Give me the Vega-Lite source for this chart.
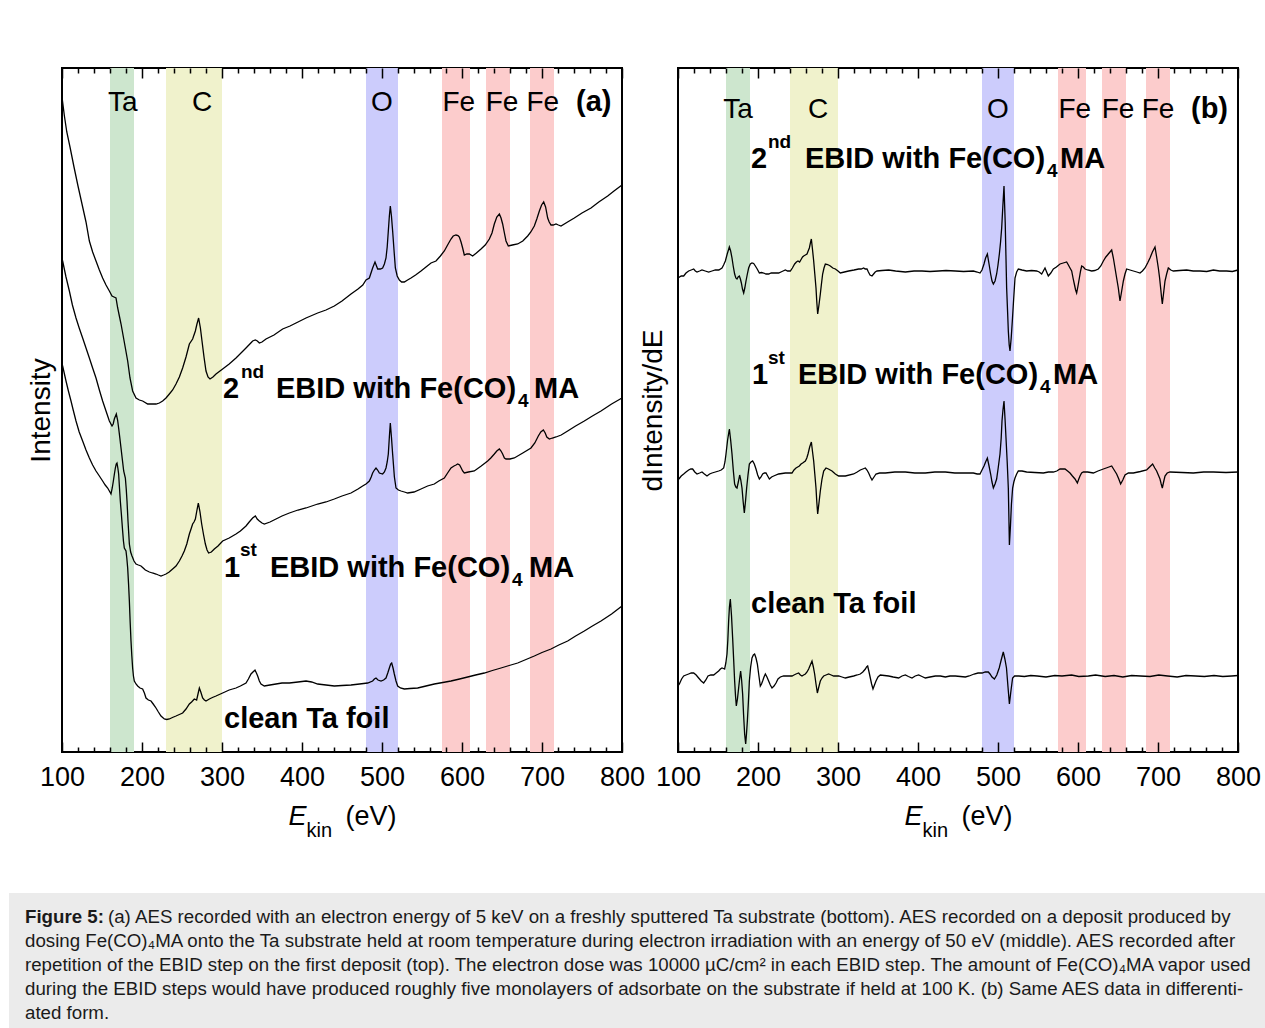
{
"$schema":"https://vega.github.io/schema/vega-lite/v6.json",
"padding":{"left":9,"top":66,"right":0,"bottom":0},
"background":"white",
"config":{"font":"Liberation Sans","view":{"stroke":"black","strokeWidth":2},"axis":{"grid":false,"labelFont":"Liberation Sans","titleFont":"Liberation Sans","labelColor":"black","titleColor":"black","tickColor":"black","titleFontWeight":"normal"},"text":{"font":"Liberation Sans"}},
"datasets":{
"bandsA":[{"el":"Ta","x0":160,"x1":190},{"el":"C","x0":230,"x1":300},{"el":"O","x0":480,"x1":520},{"el":"Fe","x0":575,"x1":610},{"el":"Fe","x0":630,"x1":660},{"el":"Fe","x0":685,"x1":715}],
"bandsB":[{"el":"Ta","x0":160,"x1":190},{"el":"C","x0":240,"x1":300},{"el":"O","x0":480,"x1":520},{"el":"Fe","x0":575,"x1":610},{"el":"Fe","x0":630,"x1":660},{"el":"Fe","x0":685,"x1":715}],
"labA":[{"t":"Ta","e":176,"v":641},{"t":"C","e":275,"v":641},{"t":"O","e":500,"v":641},{"t":"Fe","e":596,"v":641},{"t":"Fe","e":650,"v":641},{"t":"Fe","e":701,"v":641}],
"labB":[{"t":"Ta","e":175,"v":634},{"t":"C","e":275,"v":634},{"t":"O","e":500,"v":634},{"t":"Fe","e":596,"v":634},{"t":"Fe","e":650,"v":634},{"t":"Fe","e":700,"v":634}],
"annA":[{"k":"m","t":"(a)","e":742.5,"v":641},
{"k":"m","t":"2","e":301.25,"v":354},{"k":"s","t":"nd","e":323.75,"v":374},{"k":"m","t":"EBID with Fe(CO)","e":367.5,"v":354},{"k":"s","t":"4","e":670,"v":345},{"k":"m","t":"MA","e":690,"v":354},
{"k":"m","t":"1","e":302.5,"v":175},{"k":"s","t":"st","e":322.5,"v":196},{"k":"m","t":"EBID with Fe(CO)","e":360,"v":175},{"k":"s","t":"4","e":662.5,"v":166},{"k":"m","t":"MA","e":683.75,"v":175},
{"k":"m","t":"clean Ta foil","e":302.5,"v":24}],
"annB":[{"k":"m","t":"(b)","e":741.25,"v":634},
{"k":"m","t":"2","e":191.25,"v":584},{"k":"s","t":"nd","e":212.5,"v":604},{"k":"m","t":"EBID with Fe(CO)","e":258.75,"v":584},{"k":"s","t":"4","e":561.25,"v":575},{"k":"m","t":"MA","e":577.5,"v":584},
{"k":"m","t":"1","e":192.5,"v":368},{"k":"s","t":"st","e":212.5,"v":388},{"k":"m","t":"EBID with Fe(CO)","e":250,"v":368},{"k":"s","t":"4","e":552.5,"v":359},{"k":"m","t":"MA","e":568.75,"v":368},
{"k":"m","t":"clean Ta foil","e":191.25,"v":139}],
"linesA":[
{"s":"2","e":100,"v":655},{"s":"2","e":103,"v":636},{"s":"2","e":106,"v":620},{"s":"2","e":110,"v":605},{"s":"2","e":115,"v":585},{"s":"2","e":120,"v":566},{"s":"2","e":125,"v":548},{"s":"2","e":130,"v":530},{"s":"2","e":134.2,"v":511},{"s":"2","e":138.3,"v":500},{"s":"2","e":142.5,"v":491},{"s":"2","e":146.7,"v":482},{"s":"2","e":150.8,"v":474},{"s":"2","e":155,"v":467},{"s":"2","e":159.2,"v":461},{"s":"2","e":162.5,"v":456},{"s":"2","e":165,"v":455},{"s":"2","e":167.5,"v":454},{"s":"2","e":169.6,"v":444},{"s":"2","e":171.7,"v":436},{"s":"2","e":173.8,"v":428},{"s":"2","e":176.5,"v":416},{"s":"2","e":179.2,"v":404},{"s":"2","e":182.1,"v":391},{"s":"2","e":185,"v":374},{"s":"2","e":188.3,"v":361},{"s":"2","e":192.5,"v":354},{"s":"2","e":196.7,"v":352},{"s":"2","e":200.8,"v":351},{"s":"2","e":207.1,"v":348},{"s":"2","e":212,"v":348},{"s":"2","e":217.5,"v":348},{"s":"2","e":221.7,"v":349},{"s":"2","e":225.8,"v":351},{"s":"2","e":230,"v":354},{"s":"2","e":234.2,"v":358},{"s":"2","e":238.3,"v":362},{"s":"2","e":242.5,"v":368},{"s":"2","e":246.7,"v":375},{"s":"2","e":250.8,"v":384},{"s":"2","e":255,"v":395},{"s":"2","e":259.2,"v":408},{"s":"2","e":263.3,"v":413},{"s":"2","e":266.7,"v":421},{"s":"2","e":268.7,"v":428},{"s":"2","e":270.8,"v":434},{"s":"2","e":273,"v":424},{"s":"2","e":275,"v":411},{"s":"2","e":277.5,"v":395},{"s":"2","e":280,"v":381},{"s":"2","e":282.5,"v":375},{"s":"2","e":285,"v":373},{"s":"2","e":288.7,"v":375},{"s":"2","e":292.5,"v":378},{"s":"2","e":300.8,"v":383},{"s":"2","e":309,"v":388},{"s":"2","e":317.5,"v":394},{"s":"2","e":325,"v":400},{"s":"2","e":330,"v":404},{"s":"2","e":336,"v":409},{"s":"2","e":338.3,"v":411},{"s":"2","e":341.7,"v":412},{"s":"2","e":344.2,"v":411},{"s":"2","e":346.7,"v":409},{"s":"2","e":350,"v":410},{"s":"2","e":355,"v":413},{"s":"2","e":365,"v":417},{"s":"2","e":375.8,"v":423},{"s":"2","e":385,"v":426},{"s":"2","e":392.5,"v":429},{"s":"2","e":405,"v":434},{"s":"2","e":419.6,"v":439},{"s":"2","e":430,"v":442},{"s":"2","e":440.4,"v":446},{"s":"2","e":450,"v":451},{"s":"2","e":461.25,"v":458},{"s":"2","e":470,"v":463},{"s":"2","e":476,"v":467},{"s":"2","e":480,"v":472},{"s":"2","e":484.2,"v":474},{"s":"2","e":488.3,"v":484},{"s":"2","e":491.25,"v":490},{"s":"2","e":494.6,"v":483},{"s":"2","e":498,"v":483},{"s":"2","e":500.8,"v":484},{"s":"2","e":503,"v":488},{"s":"2","e":505,"v":494},{"s":"2","e":506.5,"v":505},{"s":"2","e":507.9,"v":521},{"s":"2","e":509.2,"v":536},{"s":"2","e":510.4,"v":546},{"s":"2","e":511.8,"v":536},{"s":"2","e":513.3,"v":521},{"s":"2","e":515,"v":502},{"s":"2","e":516.7,"v":484},{"s":"2","e":519,"v":476},{"s":"2","e":521.7,"v":472},{"s":"2","e":524.5,"v":470},{"s":"2","e":527.9,"v":470},{"s":"2","e":532,"v":472},{"s":"2","e":536.25,"v":474},{"s":"2","e":542,"v":477},{"s":"2","e":548.75,"v":481},{"s":"2","e":555,"v":485},{"s":"2","e":561.25,"v":489},{"s":"2","e":567.5,"v":491},{"s":"2","e":573,"v":496},{"s":"2","e":577.9,"v":501},{"s":"2","e":582,"v":507},{"s":"2","e":586.25,"v":513},{"s":"2","e":589,"v":516},{"s":"2","e":592.5,"v":517},{"s":"2","e":595,"v":516.5},{"s":"2","e":596.7,"v":515},{"s":"2","e":598.8,"v":510},{"s":"2","e":600.8,"v":504},{"s":"2","e":602.9,"v":497},{"s":"2","e":606,"v":498},{"s":"2","e":609.2,"v":498},{"s":"2","e":613.3,"v":496},{"s":"2","e":618,"v":499},{"s":"2","e":623.75,"v":503},{"s":"2","e":629,"v":507},{"s":"2","e":634.2,"v":513},{"s":"2","e":637.5,"v":519},{"s":"2","e":640.4,"v":528},{"s":"2","e":643.5,"v":535},{"s":"2","e":646.7,"v":538},{"s":"2","e":648.8,"v":534},{"s":"2","e":650.8,"v":528},{"s":"2","e":653,"v":519},{"s":"2","e":655,"v":511},{"s":"2","e":657.9,"v":506},{"s":"2","e":663,"v":507},{"s":"2","e":669.6,"v":508},{"s":"2","e":676,"v":511},{"s":"2","e":682.1,"v":516},{"s":"2","e":686,"v":520},{"s":"2","e":690.4,"v":526},{"s":"2","e":693.5,"v":533},{"s":"2","e":696.7,"v":541},{"s":"2","e":699.5,"v":547},{"s":"2","e":702.1,"v":550},{"s":"2","e":704.5,"v":545},{"s":"2","e":707.1,"v":534},{"s":"2","e":709,"v":530},{"s":"2","e":711.25,"v":527},{"s":"2","e":714,"v":527},{"s":"2","e":717.5,"v":528},{"s":"2","e":720.5,"v":527},{"s":"2","e":723.75,"v":526},{"s":"2","e":732,"v":530},{"s":"2","e":740.4,"v":534},{"s":"2","e":750,"v":539},{"s":"2","e":761.25,"v":544},{"s":"2","e":771,"v":550},{"s":"2","e":782.1,"v":556},{"s":"2","e":790,"v":561},{"s":"2","e":800,"v":567},
{"s":"1","e":100,"v":493},{"s":"1","e":100.8,"v":491},{"s":"1","e":105,"v":475},{"s":"1","e":109.2,"v":461},{"s":"1","e":113,"v":447},{"s":"1","e":117.5,"v":434},{"s":"1","e":121.5,"v":424},{"s":"1","e":125.8,"v":414},{"s":"1","e":130,"v":404},{"s":"1","e":134.2,"v":394},{"s":"1","e":138.3,"v":384},{"s":"1","e":142.5,"v":374},{"s":"1","e":146.7,"v":362},{"s":"1","e":150.8,"v":351},{"s":"1","e":155,"v":341},{"s":"1","e":159.2,"v":331},{"s":"1","e":162.5,"v":326},{"s":"1","e":164,"v":328},{"s":"1","e":165.4,"v":333},{"s":"1","e":167.9,"v":338},{"s":"1","e":169.5,"v":332},{"s":"1","e":170.8,"v":324},{"s":"1","e":172.3,"v":314},{"s":"1","e":173.75,"v":304},{"s":"1","e":175.5,"v":292},{"s":"1","e":177.1,"v":281},{"s":"1","e":179.2,"v":274},{"s":"1","e":180.3,"v":263},{"s":"1","e":181.25,"v":251},{"s":"1","e":182.5,"v":231},{"s":"1","e":184.2,"v":208},{"s":"1","e":185.8,"v":200},{"s":"1","e":187.5,"v":196},{"s":"1","e":190,"v":191},{"s":"1","e":192.5,"v":188},{"s":"1","e":195.5,"v":187},{"s":"1","e":198.75,"v":186},{"s":"1","e":201.5,"v":184},{"s":"1","e":204.2,"v":182},{"s":"1","e":209.2,"v":180},{"s":"1","e":213,"v":179},{"s":"1","e":217.5,"v":178},{"s":"1","e":220.5,"v":177},{"s":"1","e":223.75,"v":176},{"s":"1","e":227,"v":177},{"s":"1","e":230,"v":178},{"s":"1","e":234,"v":180},{"s":"1","e":238.3,"v":183},{"s":"1","e":242.5,"v":186},{"s":"1","e":246.7,"v":191},{"s":"1","e":250,"v":196},{"s":"1","e":252.9,"v":201},{"s":"1","e":256,"v":208},{"s":"1","e":259.2,"v":218},{"s":"1","e":261.3,"v":223},{"s":"1","e":263.3,"v":228},{"s":"1","e":265,"v":230},{"s":"1","e":266.7,"v":233},{"s":"1","e":268.5,"v":241},{"s":"1","e":270.4,"v":249},{"s":"1","e":272.5,"v":240},{"s":"1","e":274.6,"v":228},{"s":"1","e":277,"v":217},{"s":"1","e":279.2,"v":208},{"s":"1","e":281.3,"v":202},{"s":"1","e":283.3,"v":199},{"s":"1","e":286.7,"v":200},{"s":"1","e":290.4,"v":203},{"s":"1","e":295,"v":206},{"s":"1","e":300.8,"v":211},{"s":"1","e":309,"v":214},{"s":"1","e":317.5,"v":218},{"s":"1","e":323,"v":221},{"s":"1","e":330,"v":226},{"s":"1","e":334,"v":230},{"s":"1","e":338.3,"v":234},{"s":"1","e":341.7,"v":236},{"s":"1","e":344,"v":233},{"s":"1","e":346.7,"v":231},{"s":"1","e":350,"v":229},{"s":"1","e":352.9,"v":228},{"s":"1","e":360,"v":230},{"s":"1","e":367.5,"v":233},{"s":"1","e":375,"v":236},{"s":"1","e":384.2,"v":239},{"s":"1","e":395,"v":242},{"s":"1","e":405,"v":244},{"s":"1","e":419.6,"v":248},{"s":"1","e":430,"v":250},{"s":"1","e":440.4,"v":253},{"s":"1","e":450,"v":256},{"s":"1","e":461.25,"v":259},{"s":"1","e":470,"v":263},{"s":"1","e":475.8,"v":266},{"s":"1","e":480,"v":268},{"s":"1","e":484.2,"v":271},{"s":"1","e":486.5,"v":275},{"s":"1","e":488.3,"v":279},{"s":"1","e":490.5,"v":282},{"s":"1","e":492.5,"v":284},{"s":"1","e":494.5,"v":282},{"s":"1","e":496.7,"v":279},{"s":"1","e":500.8,"v":278},{"s":"1","e":503,"v":280},{"s":"1","e":505,"v":284},{"s":"1","e":506.5,"v":290},{"s":"1","e":507.9,"v":298},{"s":"1","e":509.2,"v":315},{"s":"1","e":510.4,"v":329},{"s":"1","e":511.8,"v":315},{"s":"1","e":513.3,"v":298},{"s":"1","e":515.5,"v":275},{"s":"1","e":517.5,"v":264},{"s":"1","e":520.5,"v":262},{"s":"1","e":523.75,"v":261},{"s":"1","e":528,"v":260},{"s":"1","e":532.1,"v":259},{"s":"1","e":540,"v":260},{"s":"1","e":548.75,"v":263},{"s":"1","e":557,"v":266},{"s":"1","e":565.4,"v":268},{"s":"1","e":571,"v":271},{"s":"1","e":577.9,"v":274},{"s":"1","e":582,"v":279},{"s":"1","e":586.25,"v":284},{"s":"1","e":590,"v":286},{"s":"1","e":592.5,"v":287},{"s":"1","e":594.6,"v":288},{"s":"1","e":597,"v":287},{"s":"1","e":599,"v":284},{"s":"1","e":600.8,"v":281},{"s":"1","e":602.9,"v":279},{"s":"1","e":608,"v":280},{"s":"1","e":615.4,"v":281},{"s":"1","e":624,"v":286},{"s":"1","e":632.1,"v":291},{"s":"1","e":636,"v":294},{"s":"1","e":640.4,"v":298},{"s":"1","e":643.5,"v":301},{"s":"1","e":646.7,"v":303},{"s":"1","e":648.8,"v":301},{"s":"1","e":650.8,"v":298},{"s":"1","e":653,"v":294},{"s":"1","e":655,"v":293},{"s":"1","e":660,"v":293},{"s":"1","e":665.4,"v":294},{"s":"1","e":676,"v":299},{"s":"1","e":686.25,"v":304},{"s":"1","e":691,"v":309},{"s":"1","e":695.4,"v":316},{"s":"1","e":698.5,"v":320},{"s":"1","e":701.7,"v":322},{"s":"1","e":704,"v":319},{"s":"1","e":706,"v":315},{"s":"1","e":709.2,"v":313},{"s":"1","e":713,"v":314},{"s":"1","e":717.5,"v":315},{"s":"1","e":724,"v":317},{"s":"1","e":732.1,"v":321},{"s":"1","e":742,"v":326},{"s":"1","e":752.9,"v":331},{"s":"1","e":763,"v":336},{"s":"1","e":773.75,"v":341},{"s":"1","e":787,"v":348},{"s":"1","e":800,"v":354},
{"s":"0","e":100,"v":388},{"s":"0","e":100.8,"v":386},{"s":"0","e":105,"v":371},{"s":"0","e":108,"v":361},{"s":"0","e":111.25,"v":351},{"s":"0","e":114,"v":342},{"s":"0","e":117.5,"v":331},{"s":"0","e":121.5,"v":320},{"s":"0","e":125.8,"v":311},{"s":"0","e":130,"v":302},{"s":"0","e":134.2,"v":294},{"s":"0","e":138.3,"v":287},{"s":"0","e":142.5,"v":281},{"s":"0","e":146.7,"v":276},{"s":"0","e":150.8,"v":271},{"s":"0","e":154,"v":267},{"s":"0","e":157.1,"v":264},{"s":"0","e":159.2,"v":261},{"s":"0","e":161.25,"v":258},{"s":"0","e":162.8,"v":264},{"s":"0","e":164.2,"v":271},{"s":"0","e":165.5,"v":278},{"s":"0","e":166.7,"v":284},{"s":"0","e":167.8,"v":288},{"s":"0","e":168.75,"v":289},{"s":"0","e":169.8,"v":284},{"s":"0","e":170.8,"v":278},{"s":"0","e":171.8,"v":265},{"s":"0","e":172.9,"v":251},{"s":"0","e":174.2,"v":238},{"s":"0","e":175.8,"v":221},{"s":"0","e":176.8,"v":211},{"s":"0","e":177.9,"v":204},{"s":"0","e":180,"v":201},{"s":"0","e":181,"v":194},{"s":"0","e":182.1,"v":184},{"s":"0","e":183.2,"v":168},{"s":"0","e":184.2,"v":151},{"s":"0","e":185.2,"v":130},{"s":"0","e":186.25,"v":111},{"s":"0","e":187.3,"v":96},{"s":"0","e":188.3,"v":84},{"s":"0","e":189.3,"v":76},{"s":"0","e":190.4,"v":71},{"s":"0","e":192.5,"v":68},{"s":"0","e":194.6,"v":66},{"s":"0","e":197.5,"v":64},{"s":"0","e":200.8,"v":63},{"s":"0","e":203,"v":59},{"s":"0","e":205,"v":54},{"s":"0","e":208,"v":52},{"s":"0","e":211.25,"v":51},{"s":"0","e":214,"v":48},{"s":"0","e":217.5,"v":44},{"s":"0","e":220.5,"v":40},{"s":"0","e":223.75,"v":36},{"s":"0","e":227.9,"v":33},{"s":"0","e":231,"v":32.5},{"s":"0","e":234.2,"v":33},{"s":"0","e":238,"v":34.5},{"s":"0","e":242.5,"v":36},{"s":"0","e":246.7,"v":37.5},{"s":"0","e":250.8,"v":39},{"s":"0","e":255,"v":43},{"s":"0","e":259.2,"v":48},{"s":"0","e":262,"v":50},{"s":"0","e":265.4,"v":53},{"s":"0","e":268.3,"v":52},{"s":"0","e":270,"v":58},{"s":"0","e":271.7,"v":64},{"s":"0","e":273.5,"v":60},{"s":"0","e":275.8,"v":54},{"s":"0","e":278,"v":52},{"s":"0","e":280,"v":51},{"s":"0","e":284.2,"v":53},{"s":"0","e":288,"v":54.5},{"s":"0","e":292.5,"v":56},{"s":"0","e":300.8,"v":59},{"s":"0","e":309,"v":62},{"s":"0","e":317.5,"v":64},{"s":"0","e":323,"v":66},{"s":"0","e":330,"v":69},{"s":"0","e":333,"v":73},{"s":"0","e":336.25,"v":78},{"s":"0","e":338.7,"v":80},{"s":"0","e":341.25,"v":82},{"s":"0","e":343,"v":79},{"s":"0","e":344.6,"v":76},{"s":"0","e":346.7,"v":71},{"s":"0","e":348.75,"v":68},{"s":"0","e":352.9,"v":66},{"s":"0","e":360,"v":67},{"s":"0","e":367.5,"v":68},{"s":"0","e":375,"v":69},{"s":"0","e":384.2,"v":69},{"s":"0","e":395,"v":70},{"s":"0","e":405,"v":71},{"s":"0","e":412,"v":70},{"s":"0","e":419.6,"v":68},{"s":"0","e":430,"v":67},{"s":"0","e":440.4,"v":66},{"s":"0","e":450,"v":66.5},{"s":"0","e":461.25,"v":67},{"s":"0","e":472,"v":68},{"s":"0","e":482.1,"v":69},{"s":"0","e":488.3,"v":71},{"s":"0","e":490.5,"v":73},{"s":"0","e":492.5,"v":74},{"s":"0","e":495,"v":72},{"s":"0","e":498.75,"v":71},{"s":"0","e":502,"v":72},{"s":"0","e":505,"v":74},{"s":"0","e":507.2,"v":79},{"s":"0","e":509.2,"v":84},{"s":"0","e":510.8,"v":88},{"s":"0","e":512.1,"v":89},{"s":"0","e":513.8,"v":84},{"s":"0","e":515.4,"v":78},{"s":"0","e":517.5,"v":71},{"s":"0","e":519.6,"v":66},{"s":"0","e":523,"v":64},{"s":"0","e":527.9,"v":63},{"s":"0","e":535,"v":63.5},{"s":"0","e":544.6,"v":64},{"s":"0","e":555,"v":66},{"s":"0","e":565.4,"v":68},{"s":"0","e":576,"v":69.5},{"s":"0","e":586.25,"v":71},{"s":"0","e":597,"v":73},{"s":"0","e":607.1,"v":75},{"s":"0","e":617,"v":77},{"s":"0","e":627.9,"v":79},{"s":"0","e":638,"v":81.5},{"s":"0","e":648.75,"v":84},{"s":"0","e":659,"v":86.5},{"s":"0","e":669.6,"v":89},{"s":"0","e":680,"v":92.5},{"s":"0","e":690.4,"v":96},{"s":"0","e":700,"v":99.5},{"s":"0","e":711.25,"v":103},{"s":"0","e":721,"v":107},{"s":"0","e":732.1,"v":111},{"s":"0","e":742,"v":116},{"s":"0","e":752.9,"v":121},{"s":"0","e":763,"v":126},{"s":"0","e":773.75,"v":131},{"s":"0","e":787,"v":138},{"s":"0","e":800,"v":146}],
"linesB":[
{"s":"2","e":100,"v":474},{"s":"2","e":104,"v":476},{"s":"2","e":107.1,"v":476},{"s":"2","e":110,"v":479},{"s":"2","e":113.3,"v":481},{"s":"2","e":116.5,"v":482},{"s":"2","e":119.6,"v":483},{"s":"2","e":121.7,"v":481},{"s":"2","e":123.75,"v":480},{"s":"2","e":127,"v":481},{"s":"2","e":130,"v":482},{"s":"2","e":134,"v":481},{"s":"2","e":138.3,"v":480},{"s":"2","e":142.5,"v":481},{"s":"2","e":146.7,"v":482},{"s":"2","e":151,"v":482},{"s":"2","e":155,"v":484},{"s":"2","e":157,"v":487},{"s":"2","e":159.2,"v":491},{"s":"2","e":161.5,"v":498},{"s":"2","e":164.2,"v":505},{"s":"2","e":165.8,"v":501},{"s":"2","e":167.5,"v":494},{"s":"2","e":169,"v":486},{"s":"2","e":170.8,"v":478},{"s":"2","e":172.3,"v":474},{"s":"2","e":173.75,"v":473},{"s":"2","e":175.2,"v":475},{"s":"2","e":176.7,"v":476},{"s":"2","e":178,"v":473},{"s":"2","e":179.2,"v":469},{"s":"2","e":180.6,"v":463},{"s":"2","e":182.1,"v":459},{"s":"2","e":183.5,"v":464},{"s":"2","e":185,"v":471},{"s":"2","e":186.7,"v":478},{"s":"2","e":188.3,"v":484},{"s":"2","e":190.4,"v":488},{"s":"2","e":192.5,"v":489},{"s":"2","e":194.6,"v":488.5},{"s":"2","e":196.7,"v":486},{"s":"2","e":199,"v":483},{"s":"2","e":201.7,"v":479},{"s":"2","e":204.5,"v":479.5},{"s":"2","e":207.1,"v":479},{"s":"2","e":210,"v":478},{"s":"2","e":213.3,"v":478},{"s":"2","e":216.5,"v":479},{"s":"2","e":219.6,"v":479},{"s":"2","e":225.8,"v":479},{"s":"2","e":230,"v":480.5},{"s":"2","e":234.2,"v":482},{"s":"2","e":237,"v":481},{"s":"2","e":240.4,"v":481},{"s":"2","e":243,"v":484},{"s":"2","e":245.8,"v":488},{"s":"2","e":248,"v":490},{"s":"2","e":250,"v":491},{"s":"2","e":252,"v":490},{"s":"2","e":254.2,"v":493},{"s":"2","e":255.7,"v":495},{"s":"2","e":257.1,"v":496},{"s":"2","e":259.2,"v":497},{"s":"2","e":261.25,"v":498},{"s":"2","e":262.7,"v":501},{"s":"2","e":264.2,"v":504},{"s":"2","e":265.5,"v":509},{"s":"2","e":266.7,"v":513},{"s":"2","e":268.2,"v":502},{"s":"2","e":269.6,"v":491},{"s":"2","e":271,"v":478},{"s":"2","e":272.5,"v":464},{"s":"2","e":273.5,"v":450},{"s":"2","e":274.6,"v":438},{"s":"2","e":276.2,"v":447},{"s":"2","e":277.9,"v":458},{"s":"2","e":279.3,"v":468},{"s":"2","e":280.8,"v":478},{"s":"2","e":282.5,"v":484},{"s":"2","e":284.2,"v":488},{"s":"2","e":287,"v":487.5},{"s":"2","e":290.4,"v":486},{"s":"2","e":293.5,"v":484},{"s":"2","e":296.7,"v":483},{"s":"2","e":300,"v":481},{"s":"2","e":302.9,"v":479},{"s":"2","e":308,"v":480},{"s":"2","e":313.3,"v":481},{"s":"2","e":320,"v":482},{"s":"2","e":325.8,"v":483},{"s":"2","e":329,"v":483},{"s":"2","e":332.1,"v":484},{"s":"2","e":334,"v":483},{"s":"2","e":336.25,"v":483},{"s":"2","e":338,"v":480},{"s":"2","e":340,"v":477},{"s":"2","e":342.5,"v":476},{"s":"2","e":344.5,"v":478},{"s":"2","e":346.5,"v":480},{"s":"2","e":348.75,"v":481},{"s":"2","e":355,"v":481.5},{"s":"2","e":363.3,"v":482},{"s":"2","e":372,"v":481},{"s":"2","e":384.2,"v":480},{"s":"2","e":395,"v":481},{"s":"2","e":405,"v":481},{"s":"2","e":415,"v":480.5},{"s":"2","e":425.8,"v":481},{"s":"2","e":435,"v":481.5},{"s":"2","e":446.7,"v":481},{"s":"2","e":457,"v":480.5},{"s":"2","e":469.2,"v":481},{"s":"2","e":474,"v":480},{"s":"2","e":477.5,"v":479},{"s":"2","e":480,"v":482},{"s":"2","e":482.5,"v":488},{"s":"2","e":484.5,"v":494},{"s":"2","e":486.7,"v":498},{"s":"2","e":488.8,"v":488},{"s":"2","e":490.8,"v":478},{"s":"2","e":492.5,"v":471},{"s":"2","e":494.2,"v":468},{"s":"2","e":496.3,"v":471},{"s":"2","e":498.3,"v":478},{"s":"2","e":500,"v":487},{"s":"2","e":501.7,"v":498},{"s":"2","e":503.2,"v":510},{"s":"2","e":504.6,"v":524},{"s":"2","e":506,"v":545},{"s":"2","e":507.5,"v":566},{"s":"2","e":509,"v":530},{"s":"2","e":510.8,"v":464},{"s":"2","e":512,"v":440},{"s":"2","e":512.9,"v":421},{"s":"2","e":514,"v":407},{"s":"2","e":515,"v":401},{"s":"2","e":516.5,"v":414},{"s":"2","e":517.9,"v":431},{"s":"2","e":519.5,"v":452},{"s":"2","e":521.25,"v":474},{"s":"2","e":523.3,"v":480},{"s":"2","e":525.4,"v":483},{"s":"2","e":530,"v":482},{"s":"2","e":535.8,"v":481},{"s":"2","e":542,"v":481.5},{"s":"2","e":548.3,"v":481},{"s":"2","e":551.5,"v":480},{"s":"2","e":554.6,"v":478},{"s":"2","e":556.7,"v":481},{"s":"2","e":558.75,"v":484},{"s":"2","e":560.8,"v":480},{"s":"2","e":562.9,"v":476},{"s":"2","e":566,"v":479},{"s":"2","e":569.2,"v":483},{"s":"2","e":573,"v":485},{"s":"2","e":577.5,"v":488},{"s":"2","e":581.5,"v":489},{"s":"2","e":585.8,"v":490},{"s":"2","e":588,"v":487},{"s":"2","e":590,"v":484},{"s":"2","e":592.1,"v":481},{"s":"2","e":593.8,"v":474},{"s":"2","e":595.4,"v":468},{"s":"2","e":597,"v":462},{"s":"2","e":598.3,"v":459},{"s":"2","e":600,"v":466},{"s":"2","e":601.7,"v":474},{"s":"2","e":603.2,"v":481},{"s":"2","e":604.6,"v":486},{"s":"2","e":606.7,"v":485},{"s":"2","e":608.75,"v":483},{"s":"2","e":612,"v":482},{"s":"2","e":617.1,"v":481},{"s":"2","e":621,"v":481.5},{"s":"2","e":625.4,"v":483},{"s":"2","e":628.5,"v":486},{"s":"2","e":631.7,"v":491},{"s":"2","e":634.8,"v":495},{"s":"2","e":637.9,"v":498},{"s":"2","e":640,"v":500},{"s":"2","e":642.1,"v":502},{"s":"2","e":644.2,"v":494},{"s":"2","e":646.25,"v":484},{"s":"2","e":648.3,"v":474},{"s":"2","e":650.4,"v":464},{"s":"2","e":651.5,"v":457},{"s":"2","e":652.5,"v":451},{"s":"2","e":654.6,"v":461},{"s":"2","e":656.7,"v":471},{"s":"2","e":658.75,"v":478},{"s":"2","e":660.8,"v":483},{"s":"2","e":665,"v":482},{"s":"2","e":669.2,"v":481},{"s":"2","e":673.5,"v":480},{"s":"2","e":677.5,"v":479},{"s":"2","e":680.5,"v":481},{"s":"2","e":683.75,"v":484},{"s":"2","e":687,"v":489},{"s":"2","e":690,"v":494},{"s":"2","e":693,"v":500},{"s":"2","e":696.25,"v":505},{"s":"2","e":698.3,"v":495},{"s":"2","e":700.4,"v":484},{"s":"2","e":702,"v":474},{"s":"2","e":703.3,"v":464},{"s":"2","e":704.4,"v":455},{"s":"2","e":705.4,"v":448},{"s":"2","e":707,"v":459},{"s":"2","e":708.75,"v":471},{"s":"2","e":710.8,"v":478},{"s":"2","e":712.9,"v":484},{"s":"2","e":716,"v":482},{"s":"2","e":719.2,"v":481},{"s":"2","e":727,"v":481.5},{"s":"2","e":735.8,"v":482},{"s":"2","e":744,"v":481},{"s":"2","e":752.5,"v":481},{"s":"2","e":761,"v":480.5},{"s":"2","e":769.2,"v":482},{"s":"2","e":777,"v":481},{"s":"2","e":785.8,"v":481},{"s":"2","e":793,"v":480.5},{"s":"2","e":800,"v":482},
{"s":"1","e":100,"v":272},{"s":"1","e":104,"v":276},{"s":"1","e":107.1,"v":278},{"s":"1","e":110,"v":280},{"s":"1","e":113.3,"v":282},{"s":"1","e":116,"v":283},{"s":"1","e":118.3,"v":283},{"s":"1","e":121,"v":280},{"s":"1","e":123.75,"v":278},{"s":"1","e":127,"v":279},{"s":"1","e":130,"v":280},{"s":"1","e":133,"v":278},{"s":"1","e":136.25,"v":276},{"s":"1","e":139.5,"v":278},{"s":"1","e":142.5,"v":279},{"s":"1","e":146.7,"v":280},{"s":"1","e":150.8,"v":281},{"s":"1","e":154,"v":282},{"s":"1","e":157.1,"v":284},{"s":"1","e":158.7,"v":290},{"s":"1","e":160,"v":298},{"s":"1","e":162,"v":312},{"s":"1","e":164.2,"v":323},{"s":"1","e":165.8,"v":312},{"s":"1","e":167.5,"v":298},{"s":"1","e":169.2,"v":281},{"s":"1","e":170.8,"v":268},{"s":"1","e":172.3,"v":265},{"s":"1","e":173.75,"v":264},{"s":"1","e":175.4,"v":270},{"s":"1","e":177.1,"v":277},{"s":"1","e":178.5,"v":272},{"s":"1","e":180,"v":264},{"s":"1","e":181.5,"v":250},{"s":"1","e":182.9,"v":239},{"s":"1","e":184.3,"v":250},{"s":"1","e":185.8,"v":264},{"s":"1","e":187.5,"v":277},{"s":"1","e":189.2,"v":288},{"s":"1","e":191.2,"v":290},{"s":"1","e":193.3,"v":291},{"s":"1","e":195.4,"v":288},{"s":"1","e":197.5,"v":283},{"s":"1","e":199.6,"v":277},{"s":"1","e":201.7,"v":273},{"s":"1","e":203.8,"v":275},{"s":"1","e":205.8,"v":278},{"s":"1","e":208,"v":279},{"s":"1","e":210,"v":279},{"s":"1","e":212.1,"v":276},{"s":"1","e":214.2,"v":273},{"s":"1","e":217,"v":275},{"s":"1","e":219.6,"v":276},{"s":"1","e":225.8,"v":278},{"s":"1","e":234.2,"v":279},{"s":"1","e":242.5,"v":279},{"s":"1","e":245,"v":282},{"s":"1","e":247.5,"v":284},{"s":"1","e":249.6,"v":285},{"s":"1","e":251.7,"v":286},{"s":"1","e":253.8,"v":288},{"s":"1","e":255.8,"v":289},{"s":"1","e":257.5,"v":290},{"s":"1","e":259.2,"v":291},{"s":"1","e":261,"v":294},{"s":"1","e":262.5,"v":298},{"s":"1","e":264.6,"v":305},{"s":"1","e":266.7,"v":310},{"s":"1","e":268.2,"v":300},{"s":"1","e":269.6,"v":291},{"s":"1","e":271,"v":278},{"s":"1","e":272.5,"v":264},{"s":"1","e":273.5,"v":250},{"s":"1","e":274.6,"v":238},{"s":"1","e":276.2,"v":249},{"s":"1","e":277.9,"v":261},{"s":"1","e":280,"v":273},{"s":"1","e":282.1,"v":281},{"s":"1","e":285,"v":284},{"s":"1","e":288,"v":283},{"s":"1","e":292.5,"v":281},{"s":"1","e":296.7,"v":278},{"s":"1","e":300.8,"v":276},{"s":"1","e":309.2,"v":276},{"s":"1","e":319.6,"v":278},{"s":"1","e":324,"v":280},{"s":"1","e":327.9,"v":282},{"s":"1","e":331,"v":283},{"s":"1","e":334.2,"v":284},{"s":"1","e":336.2,"v":282},{"s":"1","e":338.3,"v":279},{"s":"1","e":340.5,"v":275},{"s":"1","e":342.5,"v":272},{"s":"1","e":345,"v":275},{"s":"1","e":347.5,"v":278},{"s":"1","e":352,"v":279},{"s":"1","e":359.2,"v":279},{"s":"1","e":371,"v":280},{"s":"1","e":384.2,"v":280},{"s":"1","e":396,"v":279},{"s":"1","e":409.2,"v":279},{"s":"1","e":421,"v":280},{"s":"1","e":434.2,"v":280},{"s":"1","e":446,"v":279},{"s":"1","e":459.2,"v":279},{"s":"1","e":469.2,"v":279},{"s":"1","e":474,"v":278},{"s":"1","e":477.5,"v":278},{"s":"1","e":480,"v":282},{"s":"1","e":482.5,"v":286},{"s":"1","e":484.5,"v":290},{"s":"1","e":486.7,"v":294},{"s":"1","e":488.8,"v":286},{"s":"1","e":490.8,"v":278},{"s":"1","e":492.5,"v":270},{"s":"1","e":494.2,"v":264},{"s":"1","e":496.3,"v":268},{"s":"1","e":498.3,"v":273},{"s":"1","e":500.4,"v":285},{"s":"1","e":502.5,"v":298},{"s":"1","e":504,"v":314},{"s":"1","e":505,"v":331},{"s":"1","e":506.2,"v":342},{"s":"1","e":507.5,"v":351},{"s":"1","e":508.8,"v":333},{"s":"1","e":510,"v":314},{"s":"1","e":511.5,"v":290},{"s":"1","e":512.9,"v":264},{"s":"1","e":513.6,"v":235},{"s":"1","e":514.25,"v":207},{"s":"1","e":515.5,"v":225},{"s":"1","e":516.8,"v":248},{"s":"1","e":518.3,"v":264},{"s":"1","e":519.8,"v":270},{"s":"1","e":521.25,"v":274},{"s":"1","e":523.3,"v":278},{"s":"1","e":525.4,"v":281},{"s":"1","e":530,"v":281},{"s":"1","e":535.8,"v":280},{"s":"1","e":546,"v":279.5},{"s":"1","e":556.7,"v":279},{"s":"1","e":563,"v":280},{"s":"1","e":569.2,"v":280},{"s":"1","e":573.5,"v":281},{"s":"1","e":577.5,"v":283},{"s":"1","e":580.5,"v":283},{"s":"1","e":583.75,"v":283},{"s":"1","e":587,"v":281},{"s":"1","e":590,"v":279},{"s":"1","e":593,"v":276},{"s":"1","e":596.25,"v":273},{"s":"1","e":599.2,"v":269},{"s":"1","e":601,"v":273},{"s":"1","e":602.5,"v":276},{"s":"1","e":604.5,"v":279},{"s":"1","e":606.7,"v":280},{"s":"1","e":612,"v":280},{"s":"1","e":619.2,"v":279},{"s":"1","e":625,"v":281},{"s":"1","e":631.7,"v":283},{"s":"1","e":637,"v":284.5},{"s":"1","e":642.1,"v":286},{"s":"1","e":645.2,"v":282},{"s":"1","e":648.3,"v":278},{"s":"1","e":651,"v":273},{"s":"1","e":653.3,"v":268},{"s":"1","e":656,"v":272},{"s":"1","e":658.75,"v":277},{"s":"1","e":663,"v":279},{"s":"1","e":669.2,"v":279},{"s":"1","e":678,"v":280.5},{"s":"1","e":685.8,"v":282},{"s":"1","e":689.5,"v":285},{"s":"1","e":693.3,"v":288},{"s":"1","e":696,"v":284},{"s":"1","e":698.3,"v":281},{"s":"1","e":700.4,"v":277},{"s":"1","e":702.5,"v":273},{"s":"1","e":704,"v":268},{"s":"1","e":705.4,"v":264},{"s":"1","e":707,"v":270},{"s":"1","e":708.75,"v":276},{"s":"1","e":711.5,"v":279},{"s":"1","e":715,"v":280},{"s":"1","e":730,"v":279.5},{"s":"1","e":744.2,"v":279},{"s":"1","e":757,"v":280},{"s":"1","e":769.2,"v":280},{"s":"1","e":785,"v":279.5},{"s":"1","e":800,"v":280},
{"s":"0","e":100,"v":66},{"s":"0","e":101.7,"v":68},{"s":"0","e":104.5,"v":73},{"s":"0","e":107.1,"v":76},{"s":"0","e":110,"v":77},{"s":"0","e":113.3,"v":78},{"s":"0","e":116.5,"v":79},{"s":"0","e":119.6,"v":79},{"s":"0","e":122.7,"v":77},{"s":"0","e":125.8,"v":74},{"s":"0","e":129,"v":71},{"s":"0","e":132.1,"v":69},{"s":"0","e":134.8,"v":72},{"s":"0","e":137.5,"v":76},{"s":"0","e":141,"v":77},{"s":"0","e":144.6,"v":77},{"s":"0","e":147.7,"v":79},{"s":"0","e":150.8,"v":81},{"s":"0","e":153,"v":83},{"s":"0","e":155,"v":84},{"s":"0","e":156.7,"v":83.5},{"s":"0","e":158.3,"v":83},{"s":"0","e":159.8,"v":89},{"s":"0","e":161.25,"v":98},{"s":"0","e":162.3,"v":112},{"s":"0","e":163.3,"v":131},{"s":"0","e":164.3,"v":145},{"s":"0","e":165.4,"v":153},{"s":"0","e":166.9,"v":136},{"s":"0","e":168.3,"v":114},{"s":"0","e":169.6,"v":92},{"s":"0","e":170.8,"v":71},{"s":"0","e":171.9,"v":56},{"s":"0","e":172.9,"v":46},{"s":"0","e":174.3,"v":53},{"s":"0","e":175.8,"v":64},{"s":"0","e":177,"v":73},{"s":"0","e":178.3,"v":81},{"s":"0","e":179.5,"v":72},{"s":"0","e":180.8,"v":58},{"s":"0","e":182,"v":37},{"s":"0","e":183.3,"v":18},{"s":"0","e":184.6,"v":8},{"s":"0","e":185.6,"v":18},{"s":"0","e":186.7,"v":31},{"s":"0","e":188,"v":50},{"s":"0","e":189.2,"v":71},{"s":"0","e":190.8,"v":85},{"s":"0","e":192.5,"v":94},{"s":"0","e":194.2,"v":97},{"s":"0","e":195.8,"v":98},{"s":"0","e":197.5,"v":94},{"s":"0","e":199.2,"v":88},{"s":"0","e":201,"v":77},{"s":"0","e":202.9,"v":66},{"s":"0","e":204.4,"v":68},{"s":"0","e":205.8,"v":71},{"s":"0","e":207.5,"v":75},{"s":"0","e":209.2,"v":78},{"s":"0","e":211.2,"v":75},{"s":"0","e":213.3,"v":71},{"s":"0","e":215.4,"v":67},{"s":"0","e":217.5,"v":64},{"s":"0","e":220,"v":66},{"s":"0","e":222.5,"v":69},{"s":"0","e":225,"v":73},{"s":"0","e":227.9,"v":75},{"s":"0","e":232,"v":76},{"s":"0","e":236.25,"v":76},{"s":"0","e":242.5,"v":76},{"s":"0","e":245,"v":77},{"s":"0","e":247.5,"v":78},{"s":"0","e":250.8,"v":79},{"s":"0","e":253,"v":77},{"s":"0","e":255,"v":76},{"s":"0","e":257,"v":77},{"s":"0","e":259.2,"v":78},{"s":"0","e":261.3,"v":80},{"s":"0","e":263.3,"v":83},{"s":"0","e":265.4,"v":87},{"s":"0","e":267.5,"v":91},{"s":"0","e":269.2,"v":85},{"s":"0","e":270.8,"v":78},{"s":"0","e":272.5,"v":68},{"s":"0","e":274.2,"v":59},{"s":"0","e":276,"v":65},{"s":"0","e":277.9,"v":71},{"s":"0","e":280,"v":74},{"s":"0","e":282.1,"v":76},{"s":"0","e":285,"v":77},{"s":"0","e":288.3,"v":78},{"s":"0","e":291.5,"v":77},{"s":"0","e":294.6,"v":76},{"s":"0","e":300.8,"v":76},{"s":"0","e":305,"v":75},{"s":"0","e":309.2,"v":74},{"s":"0","e":314,"v":75},{"s":"0","e":319.6,"v":76},{"s":"0","e":324,"v":77},{"s":"0","e":327.9,"v":78},{"s":"0","e":331,"v":80},{"s":"0","e":334.2,"v":83},{"s":"0","e":335.7,"v":85},{"s":"0","e":337.1,"v":86},{"s":"0","e":338.8,"v":80},{"s":"0","e":340.4,"v":74},{"s":"0","e":342,"v":68},{"s":"0","e":343.75,"v":63},{"s":"0","e":345.6,"v":67},{"s":"0","e":347.5,"v":71},{"s":"0","e":350,"v":75},{"s":"0","e":352.9,"v":77},{"s":"0","e":358,"v":76.5},{"s":"0","e":363.3,"v":76},{"s":"0","e":369,"v":75},{"s":"0","e":375.8,"v":74},{"s":"0","e":380,"v":76},{"s":"0","e":384.2,"v":77},{"s":"0","e":388,"v":75.5},{"s":"0","e":392.5,"v":74},{"s":"0","e":396.5,"v":76},{"s":"0","e":400.8,"v":77},{"s":"0","e":405,"v":75.5},{"s":"0","e":409.2,"v":74},{"s":"0","e":415,"v":75},{"s":"0","e":421.7,"v":76},{"s":"0","e":428,"v":76},{"s":"0","e":434.2,"v":75},{"s":"0","e":440,"v":76},{"s":"0","e":446.7,"v":76},{"s":"0","e":453,"v":75.5},{"s":"0","e":459.2,"v":75},{"s":"0","e":464,"v":76},{"s":"0","e":470.1,"v":78},{"s":"0","e":475,"v":79},{"s":"0","e":480.25,"v":79},{"s":"0","e":484,"v":80},{"s":"0","e":487.9,"v":80},{"s":"0","e":490,"v":78},{"s":"0","e":492.5,"v":75},{"s":"0","e":495.5,"v":73},{"s":"0","e":498.5,"v":77},{"s":"0","e":501.5,"v":84},{"s":"0","e":504,"v":92},{"s":"0","e":506.6,"v":100},{"s":"0","e":508.6,"v":93},{"s":"0","e":510.6,"v":84},{"s":"0","e":512.5,"v":65},{"s":"0","e":514.25,"v":48},{"s":"0","e":516,"v":60},{"s":"0","e":518.25,"v":74},{"s":"0","e":520.75,"v":76},{"s":"0","e":526,"v":76},{"s":"0","e":533,"v":75.5},{"s":"0","e":541,"v":76.5},{"s":"0","e":549,"v":76},{"s":"0","e":560,"v":75},{"s":"0","e":571,"v":76.5},{"s":"0","e":580,"v":76},{"s":"0","e":592,"v":77},{"s":"0","e":601,"v":75.5},{"s":"0","e":613,"v":76},{"s":"0","e":622,"v":77},{"s":"0","e":634,"v":75.5},{"s":"0","e":645,"v":76.5},{"s":"0","e":656,"v":75},{"s":"0","e":667,"v":76.5},{"s":"0","e":678,"v":76},{"s":"0","e":690,"v":75.5},{"s":"0","e":701,"v":77},{"s":"0","e":712,"v":76},{"s":"0","e":724,"v":75},{"s":"0","e":735,"v":76.5},{"s":"0","e":747,"v":76},{"s":"0","e":758,"v":75.5},{"s":"0","e":770,"v":76.5},{"s":"0","e":781,"v":75.5},{"s":"0","e":792,"v":76},{"s":"0","e":800,"v":76.5}],
"capBold":[{"l":1,"t":"Figure 5:"}],
"capText":[{"l":1,"t":"(a) AES recorded with an electron energy of 5 keV on a freshly sputtered Ta substrate (bottom). AES recorded on a deposit produced by"},{"l":2,"t":"dosing Fe(CO)₄MA onto the Ta substrate held at room temperature during electron irradiation with an energy of 50 eV (middle). AES recorded after"},{"l":3,"t":"repetition of the EBID step on the first deposit (top). The electron dose was 10000 µC/cm² in each EBID step. The amount of Fe(CO)₄MA vapor used"},{"l":4,"t":"during the EBID steps would have produced roughly five monolayers of adsorbate on the substrate if held at 100 K. (b) Same AES data in differenti-"},{"l":5,"t":"ated form."}]
},
"spacing":52,
"vconcat":[
{"spacing":-8,"hconcat":[
{"width":25,"height":684,"view":{"stroke":null},"data":{"values":[]},"mark":"rect","encoding":{}},
{"width":560,"height":684,"resolve":{"axis":{"x":"independent"}},"layer":[
{"data":{"name":"bandsA"},"mark":{"type":"rect"},"encoding":{
"x":{"field":"x0","type":"quantitative","scale":{"domain":[100,800],"nice":false,"zero":false},"axis":{"orient":"bottom","values":[100,200,300,400,500,600,700,800],"tickSize":-10,"tickWidth":1.5,"domain":false,"labelFontSize":27,"labelPadding":22,"labelFlush":false,"labelOverlap":false,"zindex":1,"title":"E","titleFontSize":27,"titleFontStyle":"italic","titleX":226,"titleY":72,"titleAlign":"left","titleBaseline":"alphabetic"}},
"x2":{"field":"x1"},
"color":{"field":"el","type":"nominal","scale":{"domain":["Ta","C","O","Fe"],"range":["#cde6ce","#f0f2cc","#ccccfc","#fccccc"]},"legend":null}}},
{"data":{"name":"linesA"},"mark":{"type":"line","color":"black","strokeWidth":1.3},"encoding":{
"x":{"field":"e","type":"quantitative","scale":{"domain":[100,800],"nice":false,"zero":false},"axis":{"orient":"top","values":[100,200,300,400,500,600,700,800],"tickSize":-10,"tickWidth":1.5,"domain":false,"labels":false,"zindex":1,"title":null}},
"y":{"field":"v","type":"quantitative","scale":{"domain":[0,684],"nice":false,"zero":false},"axis":{"orient":"left","title":"Intensity","labels":false,"ticks":false,"domain":false,"titleFontSize":28,"titlePadding":7}},
"detail":{"field":"s","type":"nominal"}}},
{"data":{"name":"labA"},"mark":{"type":"text","fontSize":28,"align":"center","baseline":"alphabetic","color":"black"},"encoding":{
"x":{"field":"e","type":"quantitative","scale":{"domain":[100,800],"nice":false,"zero":false},"axis":{"orient":"bottom","values":[120,140,160,180,220,240,260,280,320,340,360,380,420,440,460,480,520,540,560,580,620,640,660,680,720,740,760,780],"tickSize":-5,"tickWidth":1.5,"domain":false,"labels":false,"zindex":1,"title":"kin","titleFontSize":20,"titleX":244,"titleY":84,"titleAlign":"left","titleBaseline":"alphabetic"}},
"y":{"field":"v","type":"quantitative","scale":{"domain":[0,684],"nice":false,"zero":false},"axis":{"orient":"left","title":"Intensity","labels":false,"ticks":false,"domain":false,"titleFontSize":28,"titlePadding":7}},
"text":{"field":"t"}}},
{"data":{"name":"annA"},"transform":[{"filter":"datum.k == 'm'"}],"mark":{"type":"text","fontSize":29,"fontWeight":"bold","align":"left","baseline":"alphabetic","color":"black"},"encoding":{
"x":{"field":"e","type":"quantitative","scale":{"domain":[100,800],"nice":false,"zero":false},"axis":{"orient":"top","values":[120,140,160,180,220,240,260,280,320,340,360,380,420,440,460,480,520,540,560,580,620,640,660,680,720,740,760,780],"tickSize":-5,"tickWidth":1.5,"domain":false,"labels":false,"zindex":1,"title":null}},
"y":{"field":"v","type":"quantitative","scale":{"domain":[0,684],"nice":false,"zero":false},"axis":{"orient":"left","title":"Intensity","labels":false,"ticks":false,"domain":false,"titleFontSize":28,"titlePadding":7}},
"text":{"field":"t"}}},
{"data":{"name":"annA"},"transform":[{"filter":"datum.k == 's'"}],"mark":{"type":"text","fontSize":19,"fontWeight":"bold","align":"left","baseline":"alphabetic","color":"black"},"encoding":{
"x":{"field":"e","type":"quantitative","scale":{"domain":[100,800],"nice":false,"zero":false},"axis":{"orient":"bottom","ticks":false,"labels":false,"domain":false,"title":"(eV)","titleFontSize":27,"titleX":283,"titleY":72,"titleAlign":"left","titleBaseline":"alphabetic"}},
"y":{"field":"v","type":"quantitative","scale":{"domain":[0,684],"nice":false,"zero":false},"axis":{"orient":"left","title":"Intensity","labels":false,"ticks":false,"domain":false,"titleFontSize":28,"titlePadding":7}},
"text":{"field":"t"}}}
]},
{"width":560,"height":684,"resolve":{"axis":{"x":"independent"}},"layer":[
{"data":{"name":"bandsB"},"mark":{"type":"rect"},"encoding":{
"x":{"field":"x0","type":"quantitative","scale":{"domain":[100,800],"nice":false,"zero":false},"axis":{"orient":"bottom","values":[100,200,300,400,500,600,700,800],"tickSize":-10,"tickWidth":1.5,"domain":false,"labelFontSize":27,"labelPadding":22,"labelFlush":false,"labelOverlap":false,"zindex":1,"title":"E","titleFontSize":27,"titleFontStyle":"italic","titleX":226,"titleY":72,"titleAlign":"left","titleBaseline":"alphabetic"}},
"x2":{"field":"x1"},
"color":{"field":"el","type":"nominal","scale":{"domain":["Ta","C","O","Fe"],"range":["#cde6ce","#f0f2cc","#ccccfc","#fccccc"]},"legend":null}}},
{"data":{"name":"linesB"},"mark":{"type":"line","color":"black","strokeWidth":1.3},"encoding":{
"x":{"field":"e","type":"quantitative","scale":{"domain":[100,800],"nice":false,"zero":false},"axis":{"orient":"top","values":[100,200,300,400,500,600,700,800],"tickSize":-10,"tickWidth":1.5,"domain":false,"labels":false,"zindex":1,"title":null}},
"y":{"field":"v","type":"quantitative","scale":{"domain":[0,684],"nice":false,"zero":false},"axis":{"orient":"left","title":"dIntensity/dE","labels":false,"ticks":false,"domain":false,"titleFontSize":28,"titlePadding":11}},
"detail":{"field":"s","type":"nominal"}}},
{"data":{"name":"labB"},"mark":{"type":"text","fontSize":28,"align":"center","baseline":"alphabetic","color":"black"},"encoding":{
"x":{"field":"e","type":"quantitative","scale":{"domain":[100,800],"nice":false,"zero":false},"axis":{"orient":"bottom","values":[120,140,160,180,220,240,260,280,320,340,360,380,420,440,460,480,520,540,560,580,620,640,660,680,720,740,760,780],"tickSize":-5,"tickWidth":1.5,"domain":false,"labels":false,"zindex":1,"title":"kin","titleFontSize":20,"titleX":244,"titleY":84,"titleAlign":"left","titleBaseline":"alphabetic"}},
"y":{"field":"v","type":"quantitative","scale":{"domain":[0,684],"nice":false,"zero":false},"axis":{"orient":"left","title":"dIntensity/dE","labels":false,"ticks":false,"domain":false,"titleFontSize":28,"titlePadding":11}},
"text":{"field":"t"}}},
{"data":{"name":"annB"},"transform":[{"filter":"datum.k == 'm'"}],"mark":{"type":"text","fontSize":29,"fontWeight":"bold","align":"left","baseline":"alphabetic","color":"black"},"encoding":{
"x":{"field":"e","type":"quantitative","scale":{"domain":[100,800],"nice":false,"zero":false},"axis":{"orient":"top","values":[120,140,160,180,220,240,260,280,320,340,360,380,420,440,460,480,520,540,560,580,620,640,660,680,720,740,760,780],"tickSize":-5,"tickWidth":1.5,"domain":false,"labels":false,"zindex":1,"title":null}},
"y":{"field":"v","type":"quantitative","scale":{"domain":[0,684],"nice":false,"zero":false},"axis":{"orient":"left","title":"dIntensity/dE","labels":false,"ticks":false,"domain":false,"titleFontSize":28,"titlePadding":11}},
"text":{"field":"t"}}},
{"data":{"name":"annB"},"transform":[{"filter":"datum.k == 's'"}],"mark":{"type":"text","fontSize":19,"fontWeight":"bold","align":"left","baseline":"alphabetic","color":"black"},"encoding":{
"x":{"field":"e","type":"quantitative","scale":{"domain":[100,800],"nice":false,"zero":false},"axis":{"orient":"bottom","ticks":false,"labels":false,"domain":false,"title":"(eV)","titleFontSize":27,"titleX":283,"titleY":72,"titleAlign":"left","titleBaseline":"alphabetic"}},
"y":{"field":"v","type":"quantitative","scale":{"domain":[0,684],"nice":false,"zero":false},"axis":{"orient":"left","title":"dIntensity/dE","labels":false,"ticks":false,"domain":false,"titleFontSize":28,"titlePadding":11}},
"text":{"field":"t"}}}
]}
]},
{"width":1256,"height":140,"view":{"fill":"#ebebeb","stroke":null},"layer":[
{"data":{"name":"capBold"},"mark":{"type":"text","fontSize":18.7,"fontWeight":"bold","align":"left","baseline":"alphabetic","color":"#1a1a1a"},"encoding":{"x":{"value":16},"y":{"field":"l","type":"ordinal","scale":{"type":"point","domain":[1,2,3,4,5],"range":[30,126],"padding":0},"axis":null},"text":{"field":"t"}}},
{"data":{"name":"capText"},"transform":[{"filter":"datum.l == 1"}],"mark":{"type":"text","fontSize":18.7,"align":"left","baseline":"alphabetic","color":"#1a1a1a","dx":83},"encoding":{"x":{"value":16},"y":{"field":"l","type":"ordinal","scale":{"type":"point","domain":[1,2,3,4,5],"range":[30,126],"padding":0},"axis":null},"text":{"field":"t"}}},
{"data":{"name":"capText"},"transform":[{"filter":"datum.l > 1"}],"mark":{"type":"text","fontSize":18.7,"align":"left","baseline":"alphabetic","color":"#1a1a1a"},"encoding":{"x":{"value":16},"y":{"field":"l","type":"ordinal","scale":{"type":"point","domain":[1,2,3,4,5],"range":[30,126],"padding":0},"axis":null},"text":{"field":"t"}}}
]}
]
}
